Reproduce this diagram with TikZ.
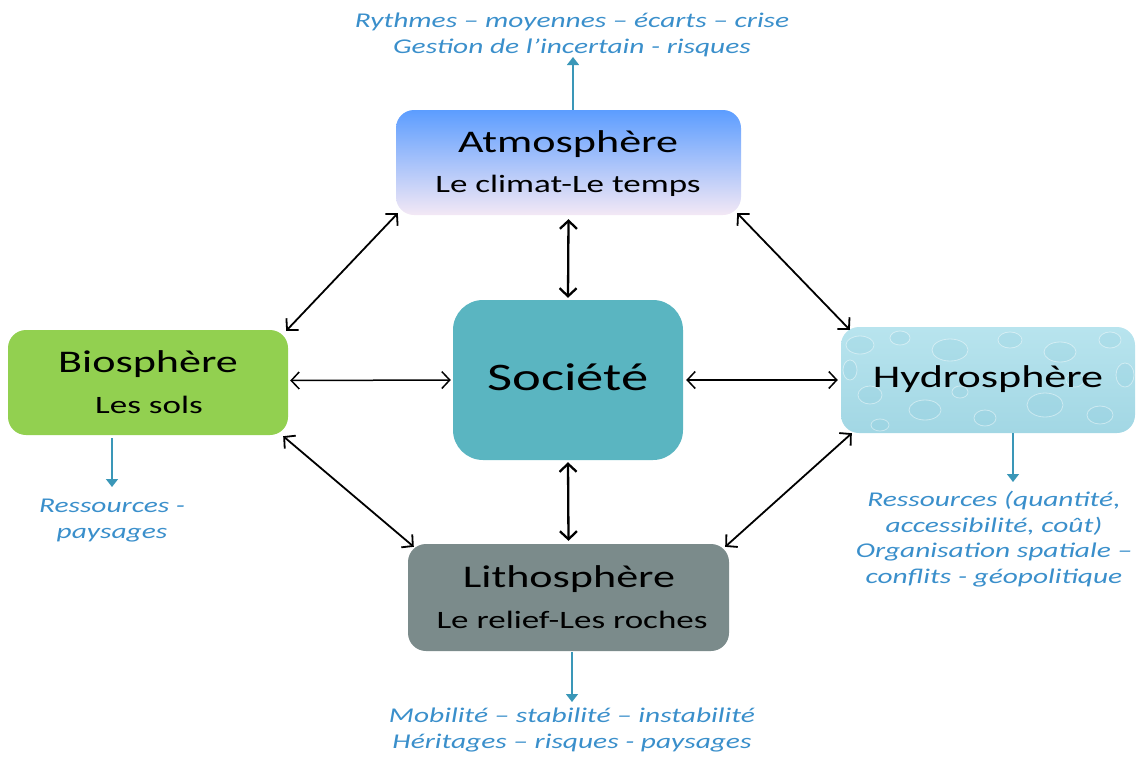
\documentclass[tikz,border=0pt]{standalone}
\usepackage{fontspec}
\setmainfont[FakeStretch=1.4]{Carlito}
\usetikzlibrary{arrows.meta,calc}
\definecolor{bluetxt}{HTML}{3A8FCB}
\definecolor{bluearr}{HTML}{3A97B8}
\definecolor{atmtop}{HTML}{5C9DFF}
\definecolor{atmbot}{HTML}{F3E8F5}
\definecolor{biofill}{HTML}{92D050}
\definecolor{socfill}{HTML}{5AB5C1}
\definecolor{hydtop}{HTML}{B8E4EE}
\definecolor{hydbot}{HTML}{A2D7E4}
\definecolor{hyddrop}{HTML}{8CCCDD}
\definecolor{litfill}{HTML}{7B8B8B}
\begin{document}
\begin{tikzpicture}[x=1pt,y=-1pt,
  box/.style={rounded corners=18pt, draw=none, inner sep=0pt},
  ttl/.style={anchor=base, inner sep=0pt, font=\fontsize{31.5}{31.5}\selectfont},
  sub/.style={anchor=base, inner sep=0pt, font=\fontsize{25}{25}\selectfont},
  note/.style={anchor=base, inner sep=0pt, align=center, text=bluetxt, font=\fontsize{21}{25.5}\selectfont\itshape},
  dbl/.style={{Straight Barb[length=8pt,width=17pt]}-{Straight Barb[length=8pt,width=17pt]}, line width=1.8pt, black},
  drop/.style={draw=white, draw opacity=0.45, line width=0.8pt, fill=hyddrop, fill opacity=0.22},
  outarrow/.style={-{Triangle[length=8pt,width=12pt]}, line width=1.5pt, bluearr}]
\useasboundingbox (0,0) rectangle (1141,756);
% boxes
\node[box, top color=atmtop, bottom color=atmbot, minimum width=345pt, minimum height=105pt] (atm) at (568.5,162.5) {};
\node[box, fill=biofill, minimum width=280pt, minimum height=105pt] (bio) at (148,382.5) {};
\node[box, rounded corners=30pt, fill=socfill, minimum width=230pt, minimum height=160pt] (soc) at (568,380) {};
\node[box, top color=hydtop, bottom color=hydbot, minimum width=294pt, minimum height=106pt] (hyd) at (988,380) {};
\node[box, fill=litfill, minimum width=321pt, minimum height=107pt] (lit) at (568.5,597.5) {};
% water-drop texture of the Hydrosphere box
\begin{scope}
  \clip[rounded corners=18pt] (hyd.north west) rectangle (hyd.south east);
  \foreach \x/\y/\rx/\ry in {860/345/14/9, 900/338/10/7, 950/350/18/11, 1010/340/12/8, 1060/352/16/10, 1110/340/11/8,
      870/395/12/9, 925/410/16/10, 985/418/11/8, 1045/405/18/12, 1100/415/13/9, 1125/375/9/12,
      880/425/9/6, 960/392/8/6, 1075/380/9/7, 850/370/7/10}
    \draw[drop] (\x,\y) ellipse[x radius=\rx, y radius=\ry];
\end{scope}
% labels
\node[ttl] (atmT) at (568,152) {Atmosphère};
\node[sub] (atmS) at (568,192) {Le climat-Le temps};
\node[ttl] (bioT) at (148,372) {Biosphère};
\node[sub] (bioS) at (149,413) {Les sols};
\node[anchor=base, inner sep=0pt, font=\fontsize{39}{39}\selectfont] (socT) at (568,390) {Société};
\node[ttl] (hydT) at (988,387) {Hydrosphère};
\node[ttl] (litT) at (569,587) {Lithosphère};
\node[sub] (litS) at (572,628) {Le relief-Les roches};
% notes (base = last line)
\node[note] (atmN) at (572,53) {Rythmes – moyennes – écarts – crise\\Gestion de l’incertain - risques};
\node[note] (bioN) at (112,538) {Ressources -\\paysages};
\node[note] (hydN) at (994,583) {Ressources (quantité,\\accessibilité, coût)\\Organisation spatiale –\\conflits - géopolitique};
\node[note] (litN) at (572,748) {Mobilité – stabilité – instabilité\\Héritages – risques - paysages};
% output arrows
\coordinate (atmA) at (573,57);
\coordinate (bioA) at (112,487);
\coordinate (hydA) at (1013,482);
\coordinate (litA) at (572,702);
\draw[outarrow] (atm.north -| atmA) -- (atmA);
\draw[outarrow] ($(bio.south -| bioA)+(0,3)$) -- (bioA);
\draw[outarrow] (hyd.south -| hydA) -- (hydA);
\draw[outarrow] ($(lit.south -| litA)+(0,1)$) -- (litA);
% double arrows
\draw[dbl] ($(atm.south west)+(2,-2)$) -- ($(bio.north east)+(-2,1)$);
\draw[dbl, line width=2.3pt] ($(atm.south)+(0,4)$) -- ($(soc.north)+(0,-2)$);
\draw[dbl] ($(atm.south east)+(-4,-2)$) -- ($(hyd.north west)+(9,3)$);
\draw[dbl, line width=1.5pt] ($(bio.east)+(2,-2)$) -- ($(soc.west)+(-2,0)$);
\draw[dbl, line width=1.5pt] ($(soc.east)+(3,0)$) -- ($(hyd.west)+(-3,0)$);
\draw[dbl] ($(bio.south east)+(-5,1)$) -- ($(lit.north west)+(6,3)$);
\draw[dbl, line width=2.3pt] ($(soc.south)+(0,2)$) -- ($(lit.north)+(0,-3)$);
\draw[dbl] ($(hyd.south west)+(11,0)$) -- ($(lit.north east)+(-4,3)$);
\end{tikzpicture}
\end{document}
